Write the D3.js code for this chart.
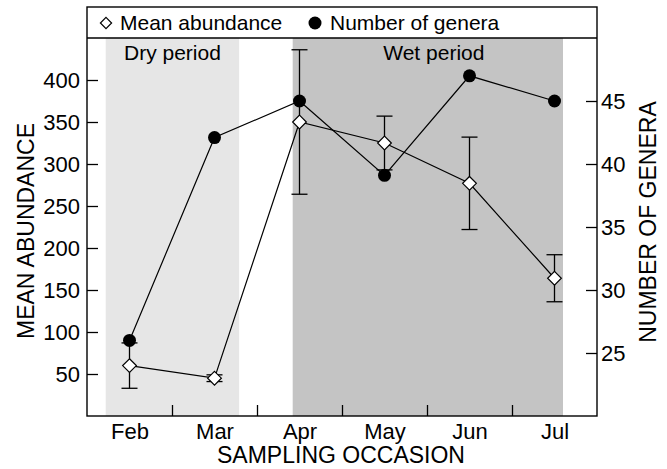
<!DOCTYPE html>
<html>
<head>
<meta charset="utf-8">
<script src="https://cdn.jsdelivr.net/npm/d3@7"></script>
<style>
  body { margin:0; background:#fff; }
  svg text { font-family: "Liberation Sans", Arial, sans-serif; fill:#000; }
</style>
</head>
<body>
<div class="canvas"></div>
<script>
// data
const months = ['Feb','Mar','Apr','May','Jun','Jul']
const abundance = [60, 45, 350, 325, 277, 164]
const abundanceErr = [27, 4, 86, 32, 55, 28]
const genera = [26, 42.1, 45, 39.1, 47, 45]
const leftTicks = [50,100,150,200,250,300,350,400]
const rightTicks = [25,30,35,40,45]
// periods in month index units
const periods = [
  {name:'Dry period', start:-0.28, end:1.29, color:'#e6e6e6'},
  {name:'Wet period', start:1.92, end:5.1, color:'#c4c4c4'}
]

const width = 667, height = 469
const frame = {left:87, right:597, top:7, legendBottom:38, bottom:416}

const svg = d3.select('.canvas').append('svg').attr('width',width).attr('height',height)

// scales
const x = d3.scalePoint().domain(months).range([frame.left, frame.right]).padding(0.5)
const xi = d3.scaleLinear().domain([-0.5, months.length - 0.5]).range([frame.left, frame.right])
const yL = d3.scaleLinear().domain([0,450]).range([frame.bottom, frame.legendBottom])
const yR = d3.scaleLinear().domain([20,50]).range([frame.bottom, frame.legendBottom])

// shaded periods
svg.selectAll('rect.period').data(periods).enter().append('rect')
  .attr('class','period')
  .attr('x', d => xi(d.start))
  .attr('width', d => xi(d.end) - xi(d.start))
  .attr('y', frame.legendBottom)
  .attr('height', frame.bottom - frame.legendBottom)
  .attr('fill', d => d.color)

svg.selectAll('text.period').data(periods).enter().append('text')
  .attr('class','period')
  .attr('x', d => (xi(d.start) + xi(d.end)) / 2 + (d.name === 'Dry period' ? 0 : 6))
  .attr('y', 60)
  .attr('text-anchor','middle')
  .style('font-size','21px')
  .text(d => d.name)

// axes
const xTicks = svg.append('g').attr('transform',`translate(0,${frame.bottom})`)
  .call(d3.axisBottom(xi).tickValues(d3.range(0.5, months.length - 1, 1)).tickSizeInner(-11).tickSizeOuter(0).tickFormat(''))
const xLabels = svg.append('g').attr('transform',`translate(0,${frame.bottom})`)
  .call(d3.axisBottom(x).tickSize(0).tickPadding(7))
xLabels.selectAll('text').style('font-size','22px')

const leftAxis = svg.append('g').attr('transform',`translate(${frame.left},0)`)
  .call(d3.axisLeft(yL).tickValues(leftTicks).tickSizeInner(-11).tickSizeOuter(0).tickPadding(7))
leftAxis.selectAll('text').style('font-size','22px')

const rightAxis = svg.append('g').attr('transform',`translate(${frame.right},0)`)
  .call(d3.axisRight(yR).tickValues(rightTicks).tickSizeInner(-11).tickSizeOuter(0).tickPadding(4))
rightAxis.selectAll('text').style('font-size','22px')

svg.selectAll('.domain').remove()
svg.selectAll('.tick line').attr('stroke','#000').attr('stroke-width',1.3)

// frame + legend box
svg.append('rect')
  .attr('x',frame.left).attr('y',frame.top)
  .attr('width',frame.right-frame.left).attr('height',frame.bottom-frame.top)
  .attr('fill','none').attr('stroke','#000').attr('stroke-width',1.4)
svg.append('line')
  .attr('x1',frame.left).attr('x2',frame.right)
  .attr('y1',frame.legendBottom).attr('y2',frame.legendBottom)
  .attr('stroke','#000').attr('stroke-width',1.4)

// axis titles
svg.append('text').attr('transform',`translate(26,231) rotate(-90)`)
  .attr('text-anchor','middle').attr('dy','0.35em').style('font-size','23px').text('MEAN ABUNDANCE')
svg.append('text').attr('transform',`translate(648,222) rotate(-90)`)
  .attr('text-anchor','middle').attr('dy','0.35em').style('font-size','23px').text('NUMBER OF GENERA')
svg.append('text').attr('x',341).attr('y',463)
  .attr('text-anchor','middle').style('font-size','23px').text('SAMPLING OCCASION')

// lines
const abLine = d3.line().x((d,i) => x(months[i])).y(d => yL(d))
const genLine = d3.line().x((d,i) => x(months[i])).y(d => yR(d))

svg.append('path').datum(genera).attr('fill','none').attr('stroke','#000').attr('stroke-width',1.2).attr('d',genLine)
svg.append('path').datum(abundance).attr('fill','none').attr('stroke','#000').attr('stroke-width',1.2).attr('d',abLine)

// error bars
const errs = svg.append('g').selectAll('g').data(abundance).enter().append('g')
errs.append('line')
  .attr('x1',(d,i)=>x(months[i])).attr('x2',(d,i)=>x(months[i]))
  .attr('y1',(d,i)=>yL(d + abundanceErr[i])).attr('y2',(d,i)=>yL(d - abundanceErr[i]))
  .attr('stroke','#000').attr('stroke-width',1.3)
errs.append('line')
  .attr('x1',(d,i)=>x(months[i]) - 8).attr('x2',(d,i)=>x(months[i]) + 8)
  .attr('y1',(d,i)=>yL(d + abundanceErr[i])).attr('y2',(d,i)=>yL(d + abundanceErr[i]))
  .attr('stroke','#000').attr('stroke-width',1.3)
errs.append('line')
  .attr('x1',(d,i)=>x(months[i]) - 8).attr('x2',(d,i)=>x(months[i]) + 8)
  .attr('y1',(d,i)=>yL(d - abundanceErr[i])).attr('y2',(d,i)=>yL(d - abundanceErr[i]))
  .attr('stroke','#000').attr('stroke-width',1.3)

// markers
const diamond = d3.symbol().type(d3.symbolDiamond2).size(120)

svg.selectAll('circle.gen').data(genera).enter().append('circle')
  .attr('class','gen')
  .attr('cx',(d,i)=>x(months[i])).attr('cy',d=>yR(d)).attr('r',6.5).attr('fill','#000')

svg.selectAll('path.ab').data(abundance).enter().append('path')
  .attr('class','ab')
  .attr('d',diamond)
  .attr('transform',(d,i)=>`translate(${x(months[i])},${yL(d)})`)
  .attr('fill','#fff').attr('stroke','#000').attr('stroke-width',1.2)

// legend
svg.append('path').attr('d',d3.symbol().type(d3.symbolDiamond2).size(80))
  .attr('transform','translate(106,23)').attr('fill','#fff').attr('stroke','#000').attr('stroke-width',1.2)
svg.append('text').attr('x',120).attr('y',30).style('font-size','21px').text('Mean abundance')
svg.append('circle').attr('cx',315).attr('cy',23).attr('r',6.5).attr('fill','#000')
svg.append('text').attr('x',330).attr('y',30).style('font-size','21px').text('Number of genera')
</script>
</body>
</html>
